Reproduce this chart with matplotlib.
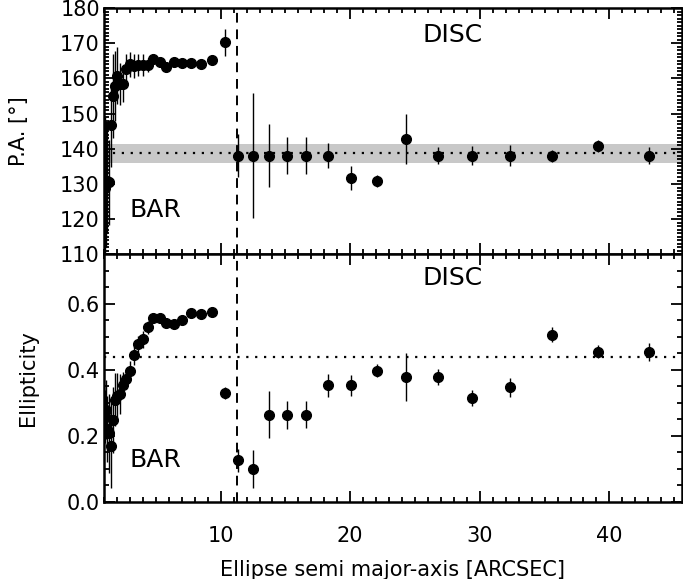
import numpy as np
import matplotlib
matplotlib.use('Agg')
from matplotlib import pyplot as plt
from matplotlib.ticker import MultipleLocator, FormatStrFormatter

plt.rcParams['font.family'] = ['DejaVu Sans']

# semi major-axis of the fitted ellipses (arcsec)
sma = [1.04, 1.15, 1.26, 1.39, 1.53, 1.68, 1.85, 2.04, 2.24, 2.47,
       2.71, 2.98, 3.28, 3.61, 3.97, 4.37, 4.81, 5.29, 5.82, 6.40,
       7.04, 7.75, 8.52, 9.37, 10.31, 11.34, 12.47, 13.72, 15.09, 16.60,
       18.26, 20.09, 22.10, 24.31, 26.74, 29.41, 32.35, 35.59, 39.15, 43.06]

# position angle (deg) and error
pa = [129.0, 130.0, 131.0, 130.5, 146.7, 155.0, 157.8, 160.8, 158.5, 158.4,
      162.8, 164.0, 163.5, 163.8, 163.8, 163.8, 165.5, 164.6, 163.1, 164.6,
      164.3, 164.5, 164.0, 165.2, 170.2, 138.1, 138.1, 138.1, 138.1, 138.1,
      138.1, 131.7, 131.0, 142.8, 138.1, 138.1, 138.1, 138.1, 140.8, 138.0]
pa_err = [20.0, 18.0, 15.0, 12.0, 12.0, 12.0, 10.0, 8.0, 6.0, 5.0,
          4.0, 3.5, 3.5, 3.0, 3.0, 2.0, 1.5, 1.0, 1.0, 1.0,
          1.0, 1.0, 1.0, 1.0, 3.8, 6.0, 17.7, 8.9, 5.3, 5.3,
          3.6, 3.3, 1.7, 7.0, 2.4, 2.8, 3.0, 1.7, 1.8, 2.4]

# ellipticity and error
ell = [0.260, 0.280, 0.220, 0.208, 0.171, 0.247, 0.310, 0.320, 0.328, 0.355,
       0.372, 0.396, 0.444, 0.478, 0.493, 0.529, 0.559, 0.559, 0.542, 0.539,
       0.551, 0.574, 0.569, 0.577, 0.331, 0.126, 0.101, 0.264, 0.264, 0.264,
       0.353, 0.353, 0.398, 0.379, 0.379, 0.315, 0.347, 0.507, 0.455, 0.455]
ell_err = [0.08, 0.09, 0.10, 0.12, 0.13, 0.10, 0.08, 0.07, 0.06, 0.04,
           0.03, 0.03, 0.03, 0.025, 0.025, 0.02, 0.015, 0.012, 0.01, 0.01,
           0.01, 0.01, 0.01, 0.01, 0.018, 0.035, 0.058, 0.071, 0.042, 0.041,
           0.035, 0.033, 0.019, 0.073, 0.024, 0.025, 0.029, 0.023, 0.020, 0.027]

bar_end = 11.3          # bar / disc transition
disc_pa, disc_pa_err = 138.8, 2.7
disc_ell = 0.44

fig = plt.figure(figsize=(6.83, 5.79), dpi=100)
ax1 = fig.add_axes([0.1523, 0.5605, 0.8462, 0.4257])
ax2 = fig.add_axes([0.1523, 0.1330, 0.8462, 0.4275])

for ax in (ax1, ax2):
    ax.axvline(bar_end, color='black', ls=(0, (5, 3.5)), lw=1.4, zorder=2)
    ax.set_xlim(1.0, 45.6)
    ax.xaxis.set_major_locator(MultipleLocator(10))
    ax.xaxis.set_minor_locator(MultipleLocator(1))
    ax.tick_params(which='both', direction='in', top=True, right=True,
                   labelsize=15, width=1.3, colors='black')
    ax.tick_params(which='major', length=8)
    ax.tick_params(which='minor', length=3.5)
    ax.tick_params(axis='y', pad=3)
    for s in ax.spines.values():
        s.set_linewidth(1.8)

# P.A. panel
ax1.axhspan(disc_pa - disc_pa_err, disc_pa + disc_pa_err, color='#c8c8c8', lw=0, zorder=0)
ax1.axhline(disc_pa, color='black', ls=(0, (1, 3)), lw=1.6, zorder=1)
ax1.errorbar(sma, pa, yerr=pa_err, fmt='o', color='black', ms=7,
             elinewidth=1.0, capsize=0, zorder=3)
ax1.set_ylim(110, 180)
ax1.yaxis.set_major_locator(MultipleLocator(10))
ax1.yaxis.set_minor_locator(MultipleLocator(1))
ax1.tick_params(labelbottom=False)
ax1.set_ylabel('P.A. [°]', fontsize=15)
ax1.yaxis.set_label_coords(-0.13, 0.5)
ax1.text(27.9, 172.3, 'DISC', fontsize=18, ha='center', va='center')
ax1.text(4.95, 122.5, 'BAR', fontsize=18, ha='center', va='center')

# ellipticity panel
ax2.axhline(disc_ell, color='black', ls=(0, (1, 3)), lw=1.6, zorder=1)
ax2.errorbar(sma, ell, yerr=ell_err, fmt='o', color='black', ms=7,
             elinewidth=1.0, capsize=0, zorder=3)
ax2.set_ylim(0.0, 0.75)
ax2.yaxis.set_major_locator(MultipleLocator(0.2))
ax2.yaxis.set_minor_locator(MultipleLocator(0.05))
ax2.yaxis.set_major_formatter(FormatStrFormatter('%.1f'))
ax2.tick_params(axis='x', pad=17)
ax2.set_ylabel('Ellipticity', fontsize=15)
ax2.yaxis.set_label_coords(-0.115, 0.5)
ax2.set_xlabel('Ellipse semi major-axis [ARCSEC]', fontsize=15)
ax2.xaxis.set_label_coords(0.5, -0.235)
ax2.text(27.9, 0.68, 'DISC', fontsize=18, ha='center', va='center')
ax2.text(4.95, 0.126, 'BAR', fontsize=18, ha='center', va='center')

fig.savefig('out.png', dpi=100)
